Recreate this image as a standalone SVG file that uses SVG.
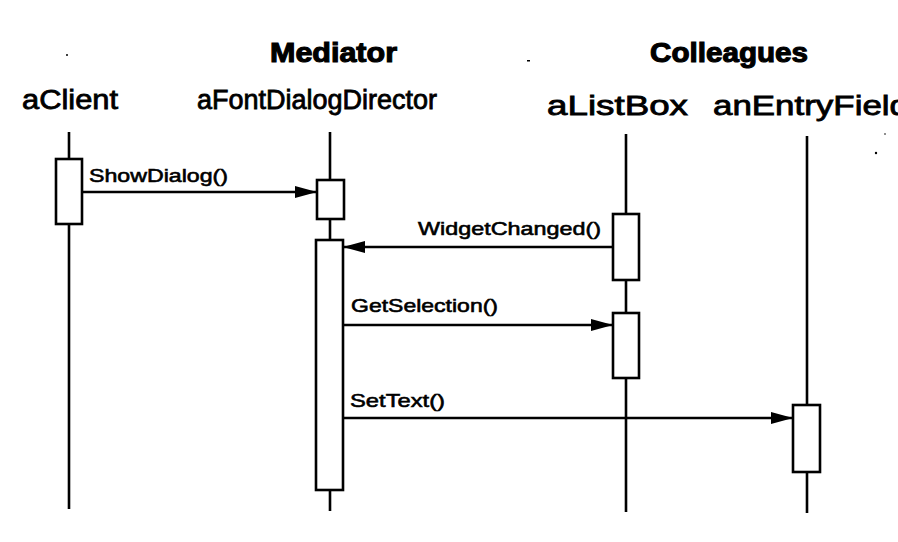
<svg xmlns="http://www.w3.org/2000/svg" width="898" height="542" viewBox="0 0 898 542">
<style>
  .life { stroke: #000; stroke-width: 2.6; fill: none; }
  .act { stroke: #000; stroke-width: 2.6; fill: #fff; }
  .msg { stroke: #000; stroke-width: 2.4; fill: none; }
  .title { font-family: "Liberation Sans", Arial, sans-serif; font-weight: bold; font-size: 27px; fill: #000; stroke: #000; stroke-width: 1.1; }
  .obj { font-family: "Liberation Sans", Arial, sans-serif; font-size: 27px; fill: #000; stroke: #000; stroke-width: 0.8; }
  .lbl { font-family: "Liberation Sans", Arial, sans-serif; font-size: 19px; fill: #000; stroke: #000; stroke-width: 0.6; }
</style>
<defs>
  <marker id="arr" markerWidth="22" markerHeight="14" refX="22" refY="7" orient="auto" markerUnits="userSpaceOnUse">
    <path d="M0,1 L22,7 L0,13 Z" fill="#000"/>
  </marker>
</defs>
<rect width="898" height="542" fill="#fff"/>

<text class="title" x="270" y="62" textLength="127" lengthAdjust="spacingAndGlyphs">Mediator</text>
<text class="title" x="650" y="62" textLength="158" lengthAdjust="spacingAndGlyphs">Colleagues</text>

<g id="aClient">
  <text class="obj" x="22" y="109" textLength="96" lengthAdjust="spacingAndGlyphs">aClient</text>
  <line class="life" x1="69" y1="132" x2="69" y2="509"/>
  <rect class="act" x="56" y="159" width="26" height="65"/>
</g>

<g id="aFontDialogDirector">
  <text class="obj" x="197" y="109" textLength="240" lengthAdjust="spacingAndGlyphs">aFontDialogDirector</text>
  <line class="life" x1="330" y1="132" x2="330" y2="511"/>
  <rect class="act" x="317" y="180" width="27" height="39"/>
  <rect class="act" x="316" y="240" width="27" height="250"/>
</g>

<g id="aListBox">
  <text class="obj" x="547" y="115" textLength="141" lengthAdjust="spacingAndGlyphs">aListBox</text>
  <line class="life" x1="626" y1="134" x2="626" y2="512"/>
  <rect class="act" x="613" y="214" width="26" height="66"/>
  <rect class="act" x="613" y="313" width="26" height="65"/>
</g>

<g id="anEntryField">
  <text class="obj" x="713" y="115" textLength="196" lengthAdjust="spacingAndGlyphs">anEntryField</text>
  <line class="life" x1="807" y1="136" x2="807" y2="513"/>
  <rect class="act" x="793" y="405" width="27" height="67"/>
</g>

<g id="connectors">
  <line class="msg" x1="82" y1="192" x2="317" y2="192" marker-end="url(#arr)"/>
  <text class="lbl" x="89" y="182" textLength="139" lengthAdjust="spacingAndGlyphs">ShowDialog()</text>

  <line class="msg" x1="613" y1="247" x2="343" y2="247" marker-end="url(#arr)"/>
  <text class="lbl" x="418" y="235" textLength="183" lengthAdjust="spacingAndGlyphs">WidgetChanged()</text>

  <line class="msg" x1="343" y1="325" x2="613" y2="325" marker-end="url(#arr)"/>
  <text class="lbl" x="351" y="312" textLength="147" lengthAdjust="spacingAndGlyphs">GetSelection()</text>

  <line class="msg" x1="343" y1="418" x2="793" y2="418" marker-end="url(#arr)"/>
  <text class="lbl" x="350" y="407" textLength="95" lengthAdjust="spacingAndGlyphs">SetText()</text>
</g>

<circle cx="67" cy="55" r="1" fill="#000"/>
<rect x="527" y="60" width="3" height="1.5" fill="#000"/>
<circle cx="885" cy="134" r="0.8" fill="#000"/>
<circle cx="876" cy="153" r="1.2" fill="#000"/>
</svg>
